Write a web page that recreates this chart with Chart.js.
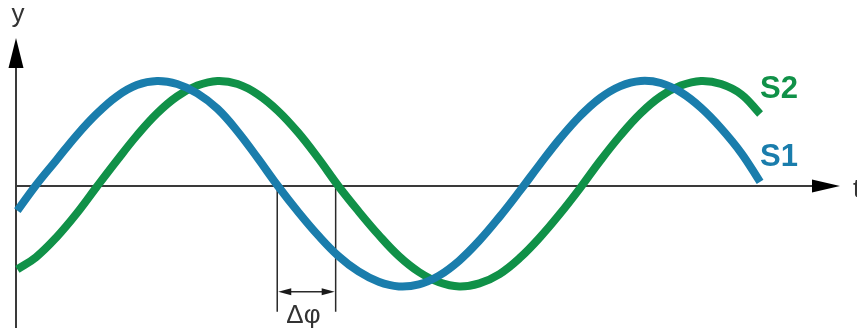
<!DOCTYPE html>
<html>
<head>
<meta charset="utf-8">
<script src="https://cdn.jsdelivr.net/npm/chart.js@4/dist/chart.umd.min.js"></script>
<style>
  html, body { margin: 0; padding: 0; background: #fff; }
  #wrap { width: 857px; height: 331px; }
</style>
</head>
<body>
<div id="wrap"><canvas id="phaseChart" width="857" height="331"></canvas></div>
<script>
// Phase shift between two sine signals S1 / S2 (t in degrees of S1 period)
const tValues = [1, 15, 30, 45, 60, 75, 90, 105, 120, 135, 150, 165, 180, 195, 210, 225, 240, 255, 270,
  285, 300, 315, 330, 345, 360, 375, 390, 405, 420, 435, 450, 465, 480, 495, 510, 525, 540, 554];
const s1Values = [-0.24, 0.01, 0.25, 0.49, 0.70, 0.87, 0.98, 1.02, 0.99, 0.90, 0.75, 0.53, 0.27, 0.0, -0.25,
  -0.48, -0.68, -0.83, -0.93, -0.975, -0.955, -0.87, -0.725, -0.53, -0.30, -0.05, 0.21, 0.46, 0.68, 0.855,
  0.97, 1.02, 1.0, 0.91, 0.76, 0.56, 0.32, 0.04];
const s2Values = [-0.81, -0.69, -0.50, -0.27, -0.01, 0.245, 0.49, 0.705, 0.87, 0.975, 1.02, 0.99, 0.89, 0.73,
  0.52, 0.27, 0.0, -0.245, -0.475, -0.68, -0.835, -0.935, -0.975, -0.945, -0.855, -0.70, -0.50, -0.27, -0.02,
  0.245, 0.49, 0.705, 0.87, 0.975, 1.02, 0.99, 0.89, 0.70];
const seriesNames = ["S1", "S2"];
const phaseMarks = [194.5, 238];   // zero crossings used for the Δφ marker

const BLUE = "#1a7dac";
const GREEN = "#109148";
const AXIS = "#3a3a3a";
const FONT = "'Liberation Sans', Arial, sans-serif";

const toPoints = (vals) => vals.map((v, i) => ({ x: tValues[i], y: v }));

function arrowHead(ctx, x, y, dir, len, half) {
  // dir: "up" | "right" | "left"
  ctx.beginPath();
  if (dir === "up") { ctx.moveTo(x, y); ctx.lineTo(x - half, y + len); ctx.lineTo(x + half, y + len); }
  if (dir === "right") { ctx.moveTo(x, y); ctx.lineTo(x - len, y - half); ctx.lineTo(x - len, y + half); }
  if (dir === "left") { ctx.moveTo(x, y); ctx.lineTo(x + len, y - half); ctx.lineTo(x + len, y + half); }
  ctx.closePath();
  ctx.fill();
}

const axesPlugin = {
  id: "axesPlugin",
  beforeDatasetsDraw(chart) {
    const { ctx, scales: { x, y } } = chart;
    const x0 = x.getPixelForValue(0);
    const y0 = y.getPixelForValue(0);
    const yTop = y.getPixelForValue(y.max);
    const yBot = y.getPixelForValue(y.min);
    const xEnd = x.getPixelForValue(x.max);
    ctx.save();
    ctx.strokeStyle = AXIS;
    ctx.fillStyle = "#000";
    ctx.lineWidth = 2;
    // y axis
    ctx.beginPath(); ctx.moveTo(x0, yBot); ctx.lineTo(x0, yTop + 20); ctx.stroke();
    arrowHead(ctx, x0, yTop, "up", 30, 7.5);
    // t axis
    ctx.beginPath(); ctx.moveTo(x0, y0); ctx.lineTo(xEnd - 20, y0); ctx.stroke();
    arrowHead(ctx, xEnd, y0, "right", 28, 6.5);

    // Δφ marker
    const xa = x.getPixelForValue(phaseMarks[0]);
    const xb = x.getPixelForValue(phaseMarks[1]);
    const yArrow = y.getPixelForValue(-1.026);
    const yLow = y.getPixelForValue(-1.22);
    ctx.lineWidth = 1.5;
    ctx.strokeStyle = "#2a2a2a";
    ctx.beginPath();
    ctx.moveTo(xa, y0); ctx.lineTo(xa, yLow);
    ctx.moveTo(xb, y0); ctx.lineTo(xb, yLow);
    ctx.moveTo(xa + 10, yArrow); ctx.lineTo(xb - 10, yArrow);
    ctx.stroke();
    ctx.fillStyle = "#1a1a1a";
    arrowHead(ctx, xa + 1, yArrow, "left", 13, 3.5);
    arrowHead(ctx, xb - 1, yArrow, "right", 13, 3.5);
    ctx.restore();
  },
  afterDatasetsDraw(chart) {
    const { ctx, scales: { x, y } } = chart;
    const x0 = x.getPixelForValue(0);
    const y0 = y.getPixelForValue(0);
    const xa = x.getPixelForValue(phaseMarks[0]);
    const xb = x.getPixelForValue(phaseMarks[1]);
    ctx.save();
    ctx.fillStyle = "#333";
    ctx.font = "26px " + FONT;
    ctx.textBaseline = "alphabetic";
    ctx.textAlign = "center";
    ctx.fillText("y", x0 + 2, 22);
    ctx.fillText("Δφ", (xa + xb) / 2 - 3, 323);
    ctx.textAlign = "left";
    ctx.fillText("t", 853, y0 + 11);

    ctx.font = "bold 31px " + FONT;
    ctx.fillStyle = GREEN;
    ctx.fillText(seriesNames[1], 760, 97.5);
    ctx.fillStyle = BLUE;
    ctx.fillText(seriesNames[0], 760, 165.5);
    ctx.restore();
  }
};

new Chart(document.getElementById("phaseChart"), {
  type: "line",
  data: {
    datasets: [
      { label: seriesNames[0], data: toPoints(s1Values), borderColor: BLUE },
      { label: seriesNames[1], data: toPoints(s2Values), borderColor: GREEN },
    ]
  },
  options: {
    responsive: false,
    animation: false,
    devicePixelRatio: 1,
    layout: { padding: { left: 16, right: 17, top: 38, bottom: 3 } },
    elements: {
      line: { borderWidth: 8, tension: 0.4, fill: false, borderCapStyle: "butt", borderJoinStyle: "round" },
      point: { radius: 0, hoverRadius: 0 }
    },
    datasets: { line: { clip: false } },
    plugins: { legend: { display: false }, tooltip: { enabled: false } },
    scales: {
      x: { type: "linear", min: 0, max: 613.5, display: false },
      y: { min: -1.379, max: 1.437, display: false }
    }
  },
  plugins: [axesPlugin]
});
</script>
</body>
</html>
